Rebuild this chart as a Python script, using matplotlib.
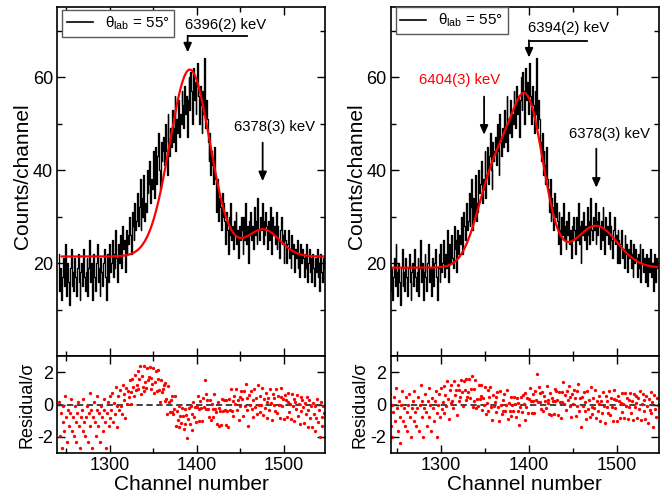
import numpy as np
import matplotlib
matplotlib.use("Agg")
import matplotlib.pyplot as plt
from matplotlib.ticker import MultipleLocator, FixedLocator
from matplotlib.lines import Line2D

plt.rcParams['font.family'] = ['Liberation Sans', 'DejaVu Sans']
plt.rcParams['mathtext.fontset'] = 'custom'
plt.rcParams['mathtext.rm'] = 'Liberation Sans'
plt.rcParams['mathtext.it'] = 'Liberation Sans:italic'
plt.rcParams['mathtext.bf'] = 'Liberation Sans:bold'
plt.rcParams['axes.unicode_minus'] = False

# ---------------- data ----------------
channel_start = 1242
counts = [
    22, 14, 19, 12, 17, 21, 15, 24, 18, 13,   # 1242
    20, 16, 11, 19, 23, 15, 18, 14, 21, 17,   # 1252
    13, 19, 22, 16, 12, 18, 20, 15, 23, 17,   # 1262
    14, 18, 21, 13, 19, 25, 16, 20, 12, 18,   # 1272
    22, 17, 14, 20, 24, 16, 19, 13, 21, 18,   # 1282
    15, 20, 23, 17, 12, 19, 22, 16, 24, 18,   # 1292
    20, 25, 17, 22, 19, 27, 21, 16, 24, 20,   # 1302
    26, 21, 19, 28, 23, 25, 18, 27, 22, 26,   # 1312
    24, 30, 26, 22, 31, 28, 25, 33, 27, 29,   # 1322
    35, 28, 32, 38, 27, 34, 30, 39, 29, 33,   # 1332
    31, 40, 35, 37, 42, 33, 38, 36, 44, 34,   # 1342
    39, 45, 37, 43, 48, 40, 36, 46, 42, 44,   # 1352
    47, 41, 50, 44, 39, 52, 46, 43, 49, 45,   # 1362
    53, 46, 49, 56, 44, 51, 48, 55, 47, 52,   # 1372
    50, 57, 54, 49, 58, 52, 56, 47, 55, 60,   # 1382
    53, 61, 57, 50, 62, 55, 59, 52, 58, 63,   # 1392
    56, 50, 58, 54, 48, 57, 52, 64, 49, 55,   # 1402
    51, 46, 42, 48, 39, 44, 41, 37, 45, 38,   # 1412
    36, 31, 38, 29, 34, 32, 27, 35, 30, 33,   # 1422
    29, 24, 31, 27, 22, 30, 26, 33, 25, 28,   # 1432
    23, 29, 26, 31, 24, 27, 21, 28, 25, 30,   # 1442
    27, 22, 30, 25, 33, 24, 28, 20, 29, 26,   # 1452
    31, 25, 28, 23, 32, 26, 29, 24, 34, 27,   # 1462
    25, 30, 27, 33, 24, 29, 26, 31, 28, 23,   # 1472
    29, 25, 32, 27, 22, 30, 26, 28, 24, 31,   # 1482
    23, 28, 25, 21, 27, 30, 24, 26, 20, 27,   # 1492
    25, 20, 24, 27, 21, 23, 19, 26, 22, 24,   # 1502
    18, 23, 21, 25, 19, 22, 17, 24, 20, 23,   # 1512
    21, 17, 22, 19, 24, 16, 20, 23, 18, 21,   # 1522
    16, 22, 19, 15, 21, 18, 23, 17, 20, 14,   # 1532
    22, 18, 16, 21, 19,                       # 1542
]

# fit results (background + gaussian components)
left_background = 21.4
left_centers = [1392, 1476]
left_amplitudes = [40.2, 5.8]
left_sigmas = [23.1, 19.0]

right_background = 19.0
right_centers = [1398, 1360, 1476]
right_amplitudes = [34.5, 19.0, 9.0]
right_sigmas = [19.0, 19.0, 24.0]

x_ticks = [1300, 1400, 1500]
count_ticks = [20, 40, 60]
resid_ticks = [-2, 0, 2]
legend_label = r'θ$_{\rm lab}$ = 55°'

# ---------------- helpers ----------------
channels = np.arange(channel_start, channel_start + len(counts))
counts_arr = np.array(counts, dtype=float)


def fit_model(x, bg, centers, amps, sigmas):
    y = np.full(np.shape(x), bg, dtype=float)
    for c, a, s in zip(centers, amps, sigmas):
        y = y + a * np.exp(-0.5 * ((x - c) / s) ** 2)
    return y


W, H = 662, 494
fig = plt.figure(figsize=(W / 100, H / 100), dpi=100)


def ax_at(x0, y0, x1, y1):
    return fig.add_axes([x0 / W, 1 - y1 / H, (x1 - x0) / W, (y1 - y0) / H])


def style_axis(ax):
    for sp in ax.spines.values():
        sp.set_linewidth(1.2)
    ax.tick_params(which='both', direction='in', top=True, right=True,
                   labelsize=13, pad=3, width=1.0)
    ax.tick_params(which='major', length=6)
    ax.tick_params(which='minor', length=3.5)


def draw_panel(x0, x1, xlim, bg, centers, amps, sigmas, legend_top):
    ax = ax_at(x0, 7.3, x1, 356)
    axr = ax_at(x0, 356, x1, 453)

    ax.step(channels, counts_arr, where='mid', color='black', lw=0.95)
    xf = np.linspace(1245, xlim[1], 600)
    ax.plot(xf, fit_model(xf, bg, centers, amps, sigmas), color='#ff0000', lw=1.6)

    ax.set_xlim(*xlim)
    ax.set_ylim(0, 75)
    ax.yaxis.set_major_locator(FixedLocator(count_ticks))
    ax.yaxis.set_minor_locator(MultipleLocator(10))
    ax.xaxis.set_major_locator(FixedLocator(x_ticks))
    ax.xaxis.set_minor_locator(MultipleLocator(50))
    ax.set_xticklabels([])
    style_axis(ax)
    ax.set_ylabel('Counts/channel', fontsize=15)
    ax.yaxis.set_label_coords(-0.093, 0.515)

    leg = ax.legend([Line2D([], [], color='black', lw=1.2)], [legend_label],
                    loc='upper left', bbox_to_anchor=(0.018, legend_top),
                    borderaxespad=0, frameon=True, fancybox=False,
                    edgecolor='0.35', framealpha=1, fontsize=11,
                    handlelength=1.7, handletextpad=0.8, borderpad=0.3)
    leg.get_frame().set_linewidth(1.0)

    fit_vals = fit_model(channels, bg, centers, amps, sigmas)
    resid = (counts_arr - fit_vals) / np.sqrt(counts_arr)
    axr.axhline(0, color='#333333', lw=1.3, ls=(0, (3.5, 2)))
    axr.plot(channels, resid, 'o', color='#ff0000', ms=2.4, mew=0)
    axr.set_xlim(*xlim)
    axr.set_ylim(-3, 3)
    axr.yaxis.set_major_locator(FixedLocator(resid_ticks))
    axr.xaxis.set_major_locator(FixedLocator(x_ticks))
    axr.xaxis.set_minor_locator(MultipleLocator(50))
    style_axis(axr)
    axr.set_ylabel('Residual/σ', fontsize=13)
    axr.yaxis.set_label_coords(-0.083, 0.5)
    axr.set_xlabel('Channel number', fontsize=15)
    axr.xaxis.set_label_coords(0.5, -0.222)
    return ax, axr


def arrow(ax, x, y0, y1, color='black'):
    ax.annotate('', xy=(x, y1), xytext=(x, y0),
                arrowprops=dict(arrowstyle='-|>,head_length=0.45,head_width=0.2',
                                color=color, lw=1.3, mutation_scale=12,
                                shrinkA=0, shrinkB=0))


# left panel: single line fit
axL, axLr = draw_panel(57.3, 325, (1240, 1547), left_background, left_centers,
                       left_amplitudes, left_sigmas, 0.992)
axL.text(1433.5, 71.1, '6396(2) keV', fontsize=10.7, ha='center', va='center')
axL.plot([1389.5, 1457], [68.85, 68.85], color='black', lw=1.3)
arrow(axL, 1389.5, 68.9, 65.3)
axL.text(1488.7, 49.2, '6378(3) keV', fontsize=10.7, ha='center', va='center')
arrow(axL, 1475.5, 45.9, 37.6)

# right panel: doublet fit
axR, axRr = draw_panel(390.7, 658.5, (1243, 1547), right_background, right_centers,
                       right_amplitudes, right_sigmas, 1.0)
axR.text(1444.5, 70.5, '6394(2) keV', fontsize=10.7, ha='center', va='center')
axR.plot([1400, 1466], [67.85, 67.85], color='black', lw=1.3)
arrow(axR, 1400, 67.9, 64.2)
axR.text(1321.7, 59.4, '6404(3) keV', fontsize=10.7, ha='center', va='center',
         color='#ff0000')
arrow(axR, 1349, 55.8, 47.6)
axR.text(1491.2, 47.85, '6378(3) keV', fontsize=10.7, ha='center', va='center')
arrow(axR, 1476.4, 44.6, 36.2)

fig.savefig('out.png', dpi=100)
